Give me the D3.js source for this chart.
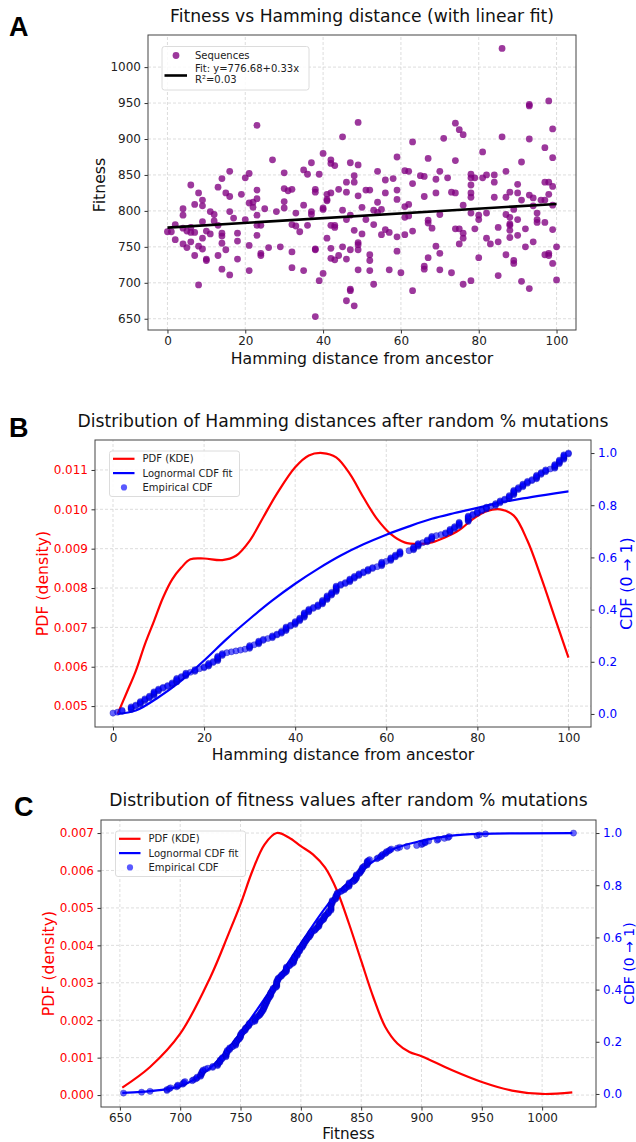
<!DOCTYPE html>
<html>
<head>
<meta charset="utf-8">
<script src="https://cdn.jsdelivr.net/npm/d3@7"></script>
<style>
  body { margin: 0; background: #fff; }
  svg { display: block; font-family: "DejaVu Sans", sans-serif; }
</style>
</head>
<body>
<svg width="636" height="1142"></svg>
<script>
const svg = d3.select('svg');

// Panel A: one sequence per point (Hamming distance, fitness)
const hamming = [
  0, 1, 2, 2, 4, 4, 4, 4, 5, 5, 6, 6, 6, 6, 7, 7, 7, 8, 8, 8, 9, 9, 9, 9, 9, 10, 10, 10, 11, 11,
  12, 12, 13, 13, 13, 14, 14, 14, 14, 14, 15, 15, 16, 16, 16, 16, 17, 18, 18, 18, 19, 20, 20,
  21, 21, 21, 21, 22, 22, 23, 23, 23, 23, 23, 23, 24, 24, 24, 25, 26, 27, 28, 29, 30, 30, 30, 30,
  31, 32, 32, 32, 32,
  33, 33, 34, 35, 35, 35, 36, 36, 37, 37, 37, 38, 38, 38, 38, 38, 39, 39, 40, 40, 40, 40,
  41, 41, 41, 41, 42, 42, 42, 42, 42, 42, 43, 43, 43, 43, 44, 44, 45, 45, 45, 46, 46, 46, 46, 46,
  47, 47, 47, 47, 47, 48, 48, 48, 48, 49, 49, 49, 49, 49, 49, 49, 50, 50, 51, 51, 52, 52, 52, 52,
  53, 53, 53, 54, 54, 54, 55, 55, 56, 56, 56, 57, 57, 58, 59, 59, 59, 59, 59, 60, 61, 61, 61, 61,
  62, 62, 62, 63, 63, 63, 63, 65, 66, 66, 66, 66, 67, 67, 67, 67, 68, 69, 69, 69, 70, 70, 70, 70,
  71, 72, 73, 73, 74, 74, 74, 74, 75, 75, 75, 76, 76, 76, 76, 76, 78, 78, 78, 78, 78, 78, 78,
  79, 79, 80, 80, 80, 81, 81, 82, 82, 82, 83, 84, 84, 84, 85, 85, 85, 86, 86, 87, 87, 87, 87,
  88, 88, 88, 88, 88, 88, 89, 89, 89, 90, 90, 90, 90, 91, 91, 91, 92, 92, 93, 93, 93, 93, 93,
  94, 94, 94, 95, 95, 95, 96, 97, 97, 97, 97, 97, 98, 98, 98, 98, 98, 99, 99, 99, 99, 99, 99, 100, 100
];
const fitness = [
  771, 771, 781, 760, 803, 794, 776, 754, 772, 749, 836, 777, 770, 757, 809, 770, 738, 825, 697, 751,
  815, 807, 785, 762, 747, 733, 731, 772, 799, 768, 795, 786, 833, 780, 738, 845, 769, 765, 755, 719,
  825, 746, 855, 820, 799, 711, 790, 769, 758, 733, 823, 846, 788, 852, 811, 752, 717, 805, 812,
  919, 829, 817, 794, 780, 766, 780, 741, 738, 803, 749, 871, 799, 750, 853, 831, 813, 804, 828,
  830, 781, 743, 721,
  797, 779, 771, 808, 717, 857, 851, 780, 867, 799, 795, 830, 826, 747, 746, 653, 851, 703,
  880, 804, 802, 713, 823, 816, 814, 762, 871, 866, 825, 780, 748, 734, 863, 780, 777, 732,
  830, 738, 903, 801, 750, 840, 826, 788, 733, 675, 867, 794, 746, 691, 689, 849, 840, 773, 668,
  923, 864, 821, 756, 753, 746, 718, 805, 768, 829, 788, 829, 739, 731, 717, 801, 781, 698,
  855, 812, 798, 802, 767, 843, 825, 774, 770, 718, 845, 875, 829, 816, 764, 744, 714,
  856, 806, 791, 767, 855, 809, 793, 896, 838, 772, 689, 849, 848, 820, 723, 719,
  873, 787, 783, 735, 776, 844, 825, 751, 855, 795, 741, 718,
  901, 846, 714, 826, 922, 870, 825, 775, 913, 775, 754, 906, 808, 769, 762, 698,
  851, 846, 836, 825, 819, 797, 703, 846, 775, 794, 788, 735, 846, 882, 850, 797, 762, 754,
  850, 840, 819, 777, 757, 710, 1026, 903, 855, 819, 795, 739, 826, 791, 782, 780, 773, 763,
  731, 727, 802, 837, 825, 766, 788, 868, 815, 702, 775, 750, 948, 946, 900, 822, 692,
  818, 807, 757, 797, 788, 784, 815, 815, 840, 888, 784, 739, 840, 953, 823, 741, 738,
  914, 874, 834, 808, 774, 727, 750, 704
];
const fitLine = [[0, 776.68], [100, 809.68]];

// Panel B curves (Hamming distance)
const kdeHamX = [1, 3, 5, 7, 9, 11, 13, 15, 17, 20, 24, 27, 30, 33, 36, 40, 43, 46, 49, 52, 55, 58,
  61, 64, 67, 70, 73, 76, 79, 82, 85, 88, 91, 94, 97, 100];
const kdeHamY = [0.00480, 0.00534, 0.00589, 0.00657, 0.00716, 0.00776, 0.00822, 0.00852, 0.00873,
  0.00875, 0.00871, 0.00882, 0.00920, 0.00980, 0.01040, 0.01107, 0.01137, 0.01143, 0.01132,
  0.01090, 0.01030, 0.00975, 0.00937, 0.00916, 0.00912, 0.00916, 0.00929, 0.00947, 0.00975,
  0.00995, 0.01000, 0.00984, 0.00920, 0.00827, 0.00725, 0.00623];
const lognHamX = [1, 5, 10, 15, 20, 25, 30, 35, 40, 45, 50, 55, 60, 65, 70, 75, 80, 85, 90, 95, 100];
const lognHamY = [0.0, 0.013, 0.064, 0.128, 0.205, 0.288, 0.364, 0.435, 0.499, 0.556, 0.607,
  0.650, 0.687, 0.719, 0.748, 0.770, 0.790, 0.810, 0.826, 0.840, 0.853];

// Panel C curves (fitness)
const kdeFitX = [652, 675, 700, 725, 740, 750, 760, 770, 780, 790, 800, 810, 820, 830, 840, 850,
  860, 870, 880, 890, 900, 925, 950, 975, 1000, 1025];
const kdeFitY = [0.00020, 0.00075, 0.00164, 0.00315, 0.00430, 0.00510, 0.00600, 0.00670, 0.00700,
  0.00688, 0.00665, 0.00643, 0.00608, 0.00546, 0.00457, 0.00359, 0.00262, 0.00182, 0.00138,
  0.00115, 0.00104, 0.00067, 0.00035, 0.00012, 0.00003, 0.00007];
const lognFitX = [652, 700, 725, 750, 775, 800, 825, 850, 875, 900, 925, 950, 1025];
const lognFitY = [0.004, 0.03, 0.10, 0.235, 0.40, 0.577, 0.741, 0.855, 0.935, 0.97, 0.99, 0.997, 1.0];

const ticksA_x = [0, 20, 40, 60, 80, 100];
const ticksA_y = [650, 700, 750, 800, 850, 900, 950, 1000];
const ticksB_x = [0, 20, 40, 60, 80, 100];
const ticksB_left = [0.005, 0.006, 0.007, 0.008, 0.009, 0.010, 0.011];
const ticksCdf = [0, 0.2, 0.4, 0.6, 0.8, 1.0];
const ticksC_x = [650, 700, 750, 800, 850, 900, 950, 1000];
const ticksC_left = [0, 0.001, 0.002, 0.003, 0.004, 0.005, 0.006, 0.007];

const RED = '#ff0000';
const BLUE = '#0000ff';
const GRID = '#d4d4d4';
const TITLE_SIZE = 17.2;
const LABEL_SIZE = 15.7;

// matplotlib style 5% margins
function padded(ext) {
  const d = ext[1] - ext[0];
  return [ext[0] - 0.05 * d, ext[1] + 0.05 * d];
}

function zip(xs, ys) { return xs.map((x, i) => [x, ys[i]]); }

function ecdf(values) {
  const s = values.slice().sort(d3.ascending);
  return s.map((v, i) => [v, (i + 1) / s.length]);
}

// grid + ticks for one panel
function drawAxes(g, x, y, xt, yt, opt) {
  const [x0, x1] = x.range();
  const [y0, y1] = y.range();
  g.append('g').selectAll('line').data(xt).join('line')
    .attr('x1', d => x(d)).attr('x2', d => x(d)).attr('y1', y0).attr('y2', y1)
    .attr('stroke', GRID).attr('stroke-width', 0.8).attr('stroke-dasharray', '3,2');
  g.append('g').selectAll('line').data(yt).join('line')
    .attr('x1', x0).attr('x2', x1).attr('y1', d => y(d)).attr('y2', d => y(d))
    .attr('stroke', GRID).attr('stroke-width', 0.8).attr('stroke-dasharray', '3,2');

  g.append('g').attr('transform', `translate(0,${y0})`)
    .call(d3.axisBottom(x).tickValues(xt).tickSize(3.5).tickPadding(3).tickFormat(d3.format('d')))
    .call(a => a.select('.domain').remove())
    .call(a => a.selectAll('text').attr('font-size', 12).attr('fill', '#222').attr('font-family', 'DejaVu Sans'))
    .call(a => a.selectAll('line').attr('stroke', '#333'));

  g.append('g').attr('transform', `translate(${x0},0)`)
    .call(d3.axisLeft(y).tickValues(yt).tickSize(3.5).tickPadding(3.5).tickFormat(opt.yFormat))
    .call(a => a.select('.domain').remove())
    .call(a => a.selectAll('text').attr('font-size', 12).attr('fill', opt.yColor).attr('font-family', 'DejaVu Sans'))
    .call(a => a.selectAll('line').attr('stroke', '#333'));
}

function frame(g, x, y) {
  const [x0, x1] = x.range();
  const [y0, y1] = y.range();
  g.append('rect').attr('x', x0).attr('y', y1).attr('width', x1 - x0).attr('height', y0 - y1)
    .attr('fill', 'none').attr('stroke', '#444').attr('stroke-width', 1);
}

function texts(g, o) {
  g.append('text').attr('x', o.cx).attr('y', o.titleY).attr('text-anchor', 'middle')
    .attr('font-size', TITLE_SIZE).attr('fill', '#111').text(o.title);
  g.append('text').attr('x', o.cx).attr('y', o.xLabelY).attr('text-anchor', 'middle')
    .attr('font-size', o.xLabelSize || LABEL_SIZE).attr('fill', '#111').text(o.xLabel);
  g.append('text').attr('transform', `translate(${o.yLabelX},${o.yLabelCy}) rotate(-90)`)
    .attr('text-anchor', 'middle').attr('dy', '0.35em')
    .attr('font-size', LABEL_SIZE).attr('fill', o.yLabelColor).text(o.yLabel);
  g.append('text').attr('x', o.letterX).attr('y', o.letterY)
    .attr('font-family', '"Liberation Sans", Arial, sans-serif').attr('font-weight', 'bold')
    .attr('font-size', 27).attr('fill', '#000').text(o.letter);
}

// ---------- Panel A ----------
{
  const g = svg.append('g');
  const x = d3.scaleLinear().domain(padded(d3.extent(hamming))).range([148, 576]);
  const y = d3.scaleLinear().domain(padded(d3.extent(fitness))).range([330, 35]);
  drawAxes(g, x, y, ticksA_x, ticksA_y, { yFormat: d3.format('d'), yColor: '#222' });

  g.append('g').selectAll('circle').data(zip(hamming, fitness)).join('circle')
    .attr('cx', d => x(d[0])).attr('cy', d => y(d[1])).attr('r', 3.4)
    .attr('fill', '#800080').attr('fill-opacity', 0.78);

  g.append('path').datum(fitLine)
    .attr('d', d3.line().x(d => x(d[0])).y(d => y(d[1])))
    .attr('stroke', '#000').attr('stroke-width', 2.6).attr('fill', 'none');
  frame(g, x, y);

  // legend
  const lg = g.append('g').attr('transform', 'translate(162,46.5)');
  lg.append('rect').attr('width', 147).attr('height', 43.5).attr('rx', 2.5)
    .attr('fill', '#fff').attr('fill-opacity', 0.85).attr('stroke', '#dcdcdc');
  lg.append('circle').attr('cx', 14).attr('cy', 9).attr('r', 3.4)
    .attr('fill', '#800080').attr('fill-opacity', 0.78);
  lg.append('line').attr('x1', 2.5).attr('x2', 25).attr('y1', 29).attr('y2', 29)
    .attr('stroke', '#000').attr('stroke-width', 2.6);
  lg.append('text').attr('x', 33).attr('y', 12.5).attr('font-size', 10).attr('fill', '#222').text('Sequences');
  lg.append('text').attr('x', 33).attr('y', 25.5).attr('font-size', 10).attr('fill', '#222').text('Fit: y=776.68+0.33x');
  lg.append('text').attr('x', 33).attr('y', 36.5).attr('font-size', 10).attr('fill', '#222').text('R²=0.03');

  texts(g, {
    cx: 362, titleY: 22, title: 'Fitness vs Hamming distance (with linear fit)',
    xLabelY: 363.5, xLabel: 'Hamming distance from ancestor',
    yLabelX: 99, yLabelCy: 185, yLabel: 'Fitness', yLabelColor: '#111',
    letterX: 9, letterY: 36, letter: 'A'
  });
}

// ---------- distribution panels (B and C) ----------
function distPanel(o) {
  const g = svg.append('g');
  const x = d3.scaleLinear().domain(padded(o.xExtent)).range([o.left, o.right]);
  const yL = d3.scaleLinear().domain(padded(d3.extent(o.kdeY))).range([o.bottom, o.top]);
  const yR = d3.scaleLinear().domain(padded([0, 1])).range([o.bottom, o.top]);

  drawAxes(g, x, yL, o.xt, o.yt, { yFormat: d3.format('.3f'), yColor: RED });

  // right axis
  g.append('g').attr('transform', `translate(${o.right},0)`)
    .call(d3.axisRight(yR).tickValues(ticksCdf).tickSize(3.5).tickPadding(3.5).tickFormat(d3.format('.1f')))
    .call(a => a.select('.domain').remove())
    .call(a => a.selectAll('text').attr('font-size', 12).attr('fill', BLUE).attr('font-family', 'DejaVu Sans'))
    .call(a => a.selectAll('line').attr('stroke', '#333'));

  const curve = d3.curveCatmullRom.alpha(0.5);
  g.append('path').datum(zip(o.kdeX, o.kdeY))
    .attr('d', d3.line().x(d => x(d[0])).y(d => yL(d[1])).curve(curve))
    .attr('stroke', RED).attr('stroke-width', 2.2).attr('fill', 'none');

  g.append('path').datum(zip(o.lognX, o.lognY))
    .attr('d', d3.line().x(d => x(d[0])).y(d => yR(d[1])).curve(curve))
    .attr('stroke', BLUE).attr('stroke-width', 2.2).attr('fill', 'none');

  g.append('g').selectAll('circle').data(ecdf(o.values)).join('circle')
    .attr('cx', d => x(d[0])).attr('cy', d => yR(d[1])).attr('r', 3.1)
    .attr('fill', BLUE).attr('fill-opacity', 0.6)
    .attr('stroke', '#0000a0').attr('stroke-opacity', 0.5).attr('stroke-width', 0.6);

  frame(g, x, yL);

  // legend
  const lg = g.append('g').attr('transform', `translate(${o.left + 14.5},${o.top + 11})`);
  lg.append('rect').attr('width', 130).attr('height', 45.5).attr('rx', 2.5)
    .attr('fill', '#fff').attr('fill-opacity', 0.85).attr('stroke', '#dcdcdc');
  const rows = [
    { label: 'PDF (KDE)', kind: 'line', color: RED },
    { label: 'Lognormal CDF fit', kind: 'line', color: BLUE },
    { label: 'Empirical CDF', kind: 'dot', color: BLUE }
  ];
  rows.forEach((r, i) => {
    const cy = 7.8 + i * 14.3;
    if (r.kind === 'line') {
      lg.append('line').attr('x1', 3.5).attr('x2', 25).attr('y1', cy).attr('y2', cy)
        .attr('stroke', r.color).attr('stroke-width', 2.2);
    } else {
      lg.append('circle').attr('cx', 14.5).attr('cy', cy).attr('r', 3.1)
        .attr('fill', r.color).attr('fill-opacity', 0.65);
    }
    lg.append('text').attr('x', 33).attr('y', cy + 3.6).attr('font-size', 10)
      .attr('fill', '#222').text(r.label);
  });

  texts(g, {
    cx: (o.left + o.right) / 2, titleY: o.titleY, title: o.title,
    xLabelY: o.xLabelY, xLabel: o.xLabel, xLabelSize: o.xLabelSize,
    yLabelX: o.left - 53, yLabelCy: (o.top + o.bottom) / 2, yLabel: 'PDF (density)', yLabelColor: RED,
    letterX: o.letterX, letterY: o.letterY, letter: o.letter
  });
  g.append('text').attr('transform', `translate(${o.cdfLabelX},${(o.top + o.bottom) / 2}) rotate(-90)`)
    .attr('text-anchor', 'middle').attr('dy', '0.35em')
    .attr('font-size', o.cdfLabelSize).attr('fill', BLUE).text('CDF (0 → 1)');
}

distPanel({
  values: hamming, xExtent: d3.extent(kdeHamX),
  kdeX: kdeHamX, kdeY: kdeHamY, lognX: lognHamX, lognY: lognHamY,
  xt: ticksB_x, yt: ticksB_left,
  left: 95, right: 591, top: 440, bottom: 727,
  title: 'Distribution of Hamming distances after random % mutations', titleY: 427,
  xLabel: 'Hamming distance from ancestor', xLabelY: 759.5,
  cdfLabelX: 626, cdfLabelSize: LABEL_SIZE,
  letter: 'B', letterX: 9, letterY: 437
});

distPanel({
  values: fitness, xExtent: d3.extent(fitness),
  kdeX: kdeFitX, kdeY: kdeFitY, lognX: lognFitX, lognY: lognFitY,
  xt: ticksC_x, yt: ticksC_left,
  left: 101, right: 596, top: 820, bottom: 1107,
  title: 'Distribution of fitness values after random % mutations', titleY: 806,
  xLabel: 'Fitness', xLabelY: 1138.5, xLabelSize: 15.2,
  cdfLabelX: 629, cdfLabelSize: 14,
  letter: 'C', letterX: 14, letterY: 816
});
</script>
</body>
</html>
